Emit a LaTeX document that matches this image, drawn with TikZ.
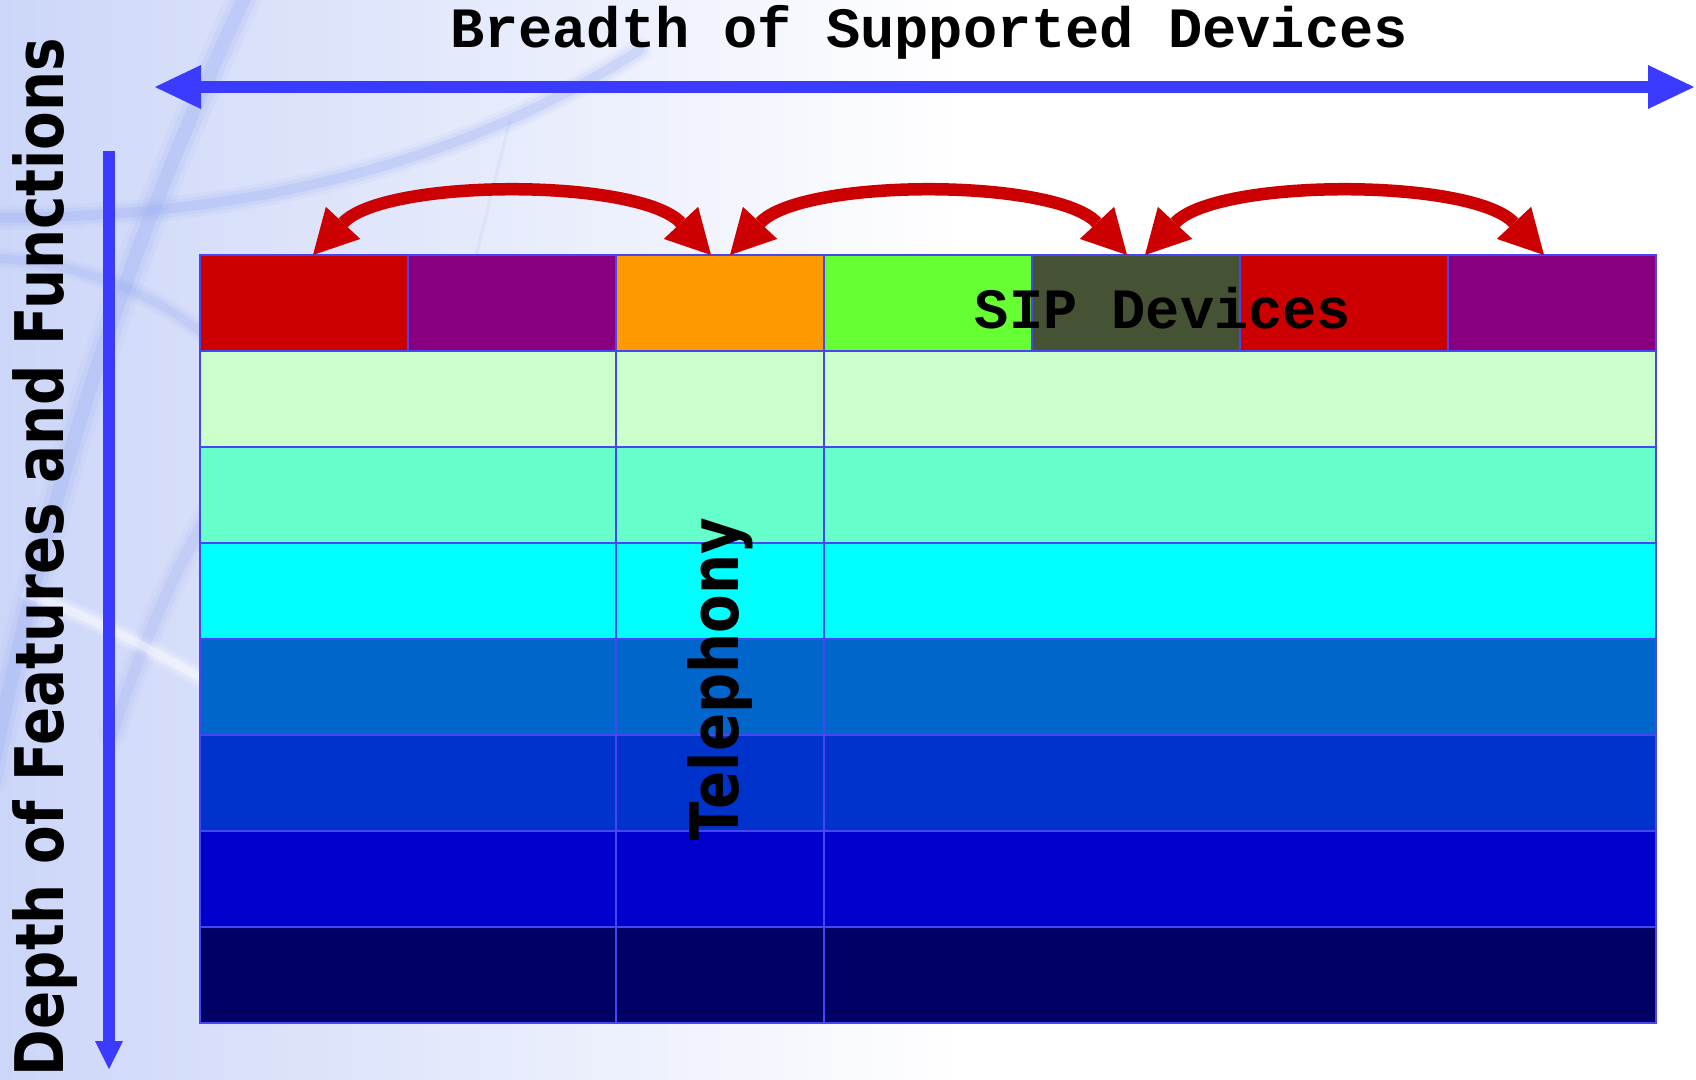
\documentclass[tikz,border=0pt]{standalone}
\usepackage{fontspec}
\usetikzlibrary{arrows.meta}
\newfontfamily\slabfont{Liberation Mono Bold}
\newfontfamily\axisfont{DejaVu Sans Bold}[FakeStretch=0.84]

\definecolor{bgleft}{HTML}{CCD6F8}
\definecolor{bgmid}{HTML}{E2E8FB}
\definecolor{streak}{HTML}{8EA3F3}
\definecolor{axisblue}{HTML}{3B3BFF}
\definecolor{gridblue}{HTML}{4646F5}
\definecolor{linkred}{HTML}{CC0000}
\definecolor{cRed}{HTML}{CC0000}
\definecolor{cPurple}{HTML}{880080}
\definecolor{cOrange}{HTML}{FF9900}
\definecolor{cGreen}{HTML}{66FF33}
\definecolor{cOlive}{HTML}{465234}
\definecolor{rowA}{HTML}{CCFFCC}
\definecolor{rowB}{HTML}{66FFCC}
\definecolor{rowC}{HTML}{00FFFF}
\definecolor{rowD}{HTML}{0066CC}
\definecolor{rowE}{HTML}{0033CC}
\definecolor{rowF}{HTML}{0000CC}
\definecolor{rowG}{HTML}{000066}

\begin{document}
\begin{tikzpicture}[x=1pt, y=-1pt,
  cell/.style={draw=gridblue, line width=2pt, inner sep=0pt, outer sep=0pt,
               minimum height=96pt, anchor=north west},
  unit/.style={cell, minimum width=208pt},
  wide/.style={cell, minimum width=416pt},
  rest/.style={cell, minimum width=832pt},
  axisline/.style={draw=axisblue, line width=12pt},
  link/.style={draw=linkred, line width=12.5pt,
    {Triangle[length=44pt,width=47pt,line width=0pt]}-{Triangle[length=44pt,width=47pt,line width=0pt]}},
  swoosh/.style={draw=streak, line cap=round},
  glare/.style={draw=white, line cap=round},
  mono/.style={inner sep=0pt, anchor=base, font=\slabfont\fontsize{57}{60}\selectfont},
  upright/.style={inner sep=0pt, anchor=base, rotate=90,
                  font=\axisfont\fontsize{67}{70}\selectfont}]

\useasboundingbox (0,0) rectangle (1696,1079);

% background wash
\fill[white] (0,0) rectangle (1696,1079);
\shade[left color=bgleft, middle color=bgmid, right color=white] (0,0) rectangle (960,1079);

% soft decorative streaks
\begin{scope}
  \clip (0,0) rectangle (1696,1079);
  \foreach \w/\o in {34/0.07, 24/0.11, 14/0.2} {
    \draw[swoosh, line width=\w pt, opacity=\o]
      (248,-10) .. controls (150,200) and (60,430) .. (-10,780);
    \draw[swoosh, line width=0.7*\w pt, opacity=\o]
      (-10,218) .. controls (180,218) and (420,190) .. (640,50);
    \draw[swoosh, line width=0.6*\w pt, opacity=0.8*\o]
      (-10,258) .. controls (80,262) and (150,292) .. (205,335);
    \draw[swoosh, line width=0.8*\w pt, opacity=0.8*\o]
      (112,735) .. controls (140,650) and (170,580) .. (205,520);
    \draw[glare, line width=0.6*\w pt, opacity=2*\o]
      (30,595) .. controls (100,620) and (150,650) .. (205,680);
  }
  \draw[swoosh, line width=3pt, opacity=0.12] (510,120) .. controls (495,180) and (485,220) .. (476,256);
\end{scope}

% axes
\coordinate (hleft) at (155,87);
\coordinate (hright) at (1694,87);
\draw[axisline, {Triangle[length=46pt,width=44pt,line width=0pt]}-{Triangle[length=46pt,width=44pt,line width=0pt]}]
  (hleft) -- (hright);
\coordinate (vtop) at (109,151);
\coordinate (vbottom) at (109,1069);
\draw[axisline, -{Triangle[length=28pt,width=28pt,line width=0pt]}] (vtop) -- (vbottom);

\node[mono] (breadth) at (929,47.5) {Breadth of Supported Devices};
\node[upright] (depthlabel) at (63,557) {Depth of Features and Functions};

% device row
\foreach \k/\c in {1/cRed,2/cPurple,3/cOrange,4/cGreen,5/cOlive,6/cRed,7/cPurple}
  \node[unit, fill=\c] (t\k) at ({200+208*(\k-1)},255) {};

% feature layers
\foreach \r/\c in {2/rowA,3/rowB,4/rowC,5/rowD,6/rowE,7/rowF,8/rowG} {
  \node[wide, fill=\c] (a\r) at (200,{255+96*(\r-1)}) {};
  \node[unit, fill=\c] (b\r) at (616,{255+96*(\r-1)}) {};
  \node[rest, fill=\c] (c\r) at (824,{255+96*(\r-1)}) {};
}

\node[mono] (sip) at (1163,328) {SIP Devices};
\node[upright] (tel) at (738,679) {Telephony};

% interoperability links
\draw[link] ([xshift=9pt]t1.north) .. controls +(72,-77) and +(-72,-77) .. ([xshift=-9pt]t3.north);
\draw[link] ([xshift=10pt]t3.north) .. controls +(72,-77) and +(-72,-77) .. ([xshift=-9pt]t5.north);
\draw[link] ([xshift=9pt]t5.north) .. controls +(72,-77) and +(-72,-77) .. ([xshift=-8pt]t7.north);

\end{tikzpicture}
\end{document}
